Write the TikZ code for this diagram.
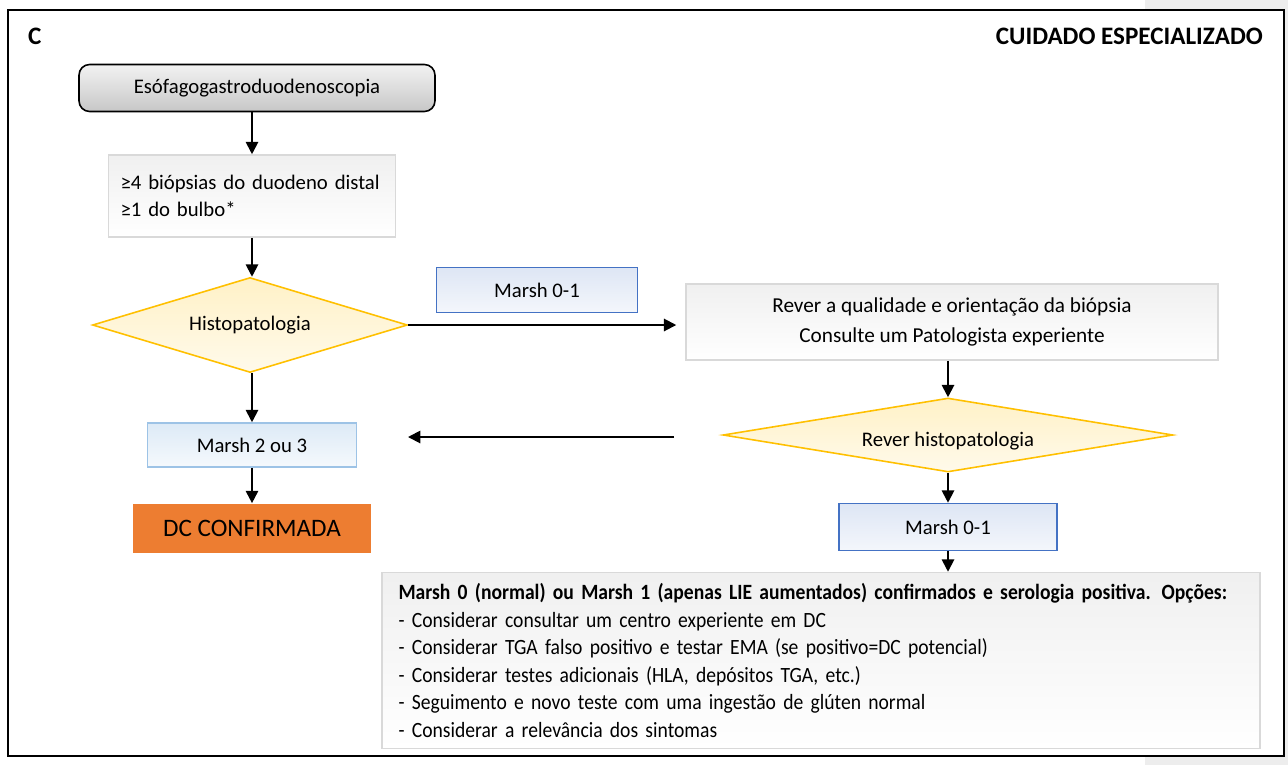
\documentclass[tikz,border=0pt]{standalone}
\usepackage{fontspec}
\setmainfont{Carlito}
\newfontfamily\narrowfont{Carlito}[FakeStretch=0.9,WordSpace=0.8]
\usepackage{tikz}
\usetikzlibrary{shapes.geometric,arrows.meta,positioning}

\definecolor{frameblue}{HTML}{4472C4}
\definecolor{paleblue}{HTML}{9DC3E6}
\definecolor{gold}{HTML}{FFC000}
\definecolor{dcorange}{HTML}{ED7D31}

\begin{document}
\begin{tikzpicture}[x=0.02cm,y=-0.02cm,
  font=\fontsize{11.8}{14}\selectfont,
  >={Triangle[length=7pt,width=7pt]},
  every edge/.style={draw,line width=1.1pt},
  greybox/.style={draw=black!15,line width=0.9pt,top color=black!6,bottom color=white},
  marshbox/.style={draw=frameblue,line width=0.9pt,top color=frameblue!18,bottom color=frameblue!6},
  decision/.style={diamond,draw=gold,line width=0.9pt,top color=gold!22,bottom color=gold!8,aspect=4,inner sep=0pt}]

  % page and frame
  \useasboundingbox (0,0) rectangle (1288,765);
  \fill[black!7] (1145,0) rectangle (1288,765);
  \draw[fill=white,line width=1.3pt] (8,10) rectangle (1284,756);
  \node[anchor=west,font=\fontsize{14.3}{17}\selectfont\bfseries] (lbl) at (22,36) {C};
  \node[anchor=east,font=\fontsize{14.3}{17}\selectfont\bfseries] (ttl) at (1269,36) {CUIDADO ESPECIALIZADO};

  % left column
  \node[draw,line width=0.9pt,rounded corners=6pt,top color=black!5,bottom color=black!22,
        minimum width=7.12cm,minimum height=0.94cm] (eso) at (257,88) {Esófagogastroduodenoscopia};
  \node[greybox,minimum width=5.74cm,minimum height=1.64cm,text width=5.26cm,align=left,
        inner xsep=0.24cm] (biop) at (252,196) {≥4 biópsias do duodeno distal\\[1pt]≥1 do bulbo*\\[10pt]};
  \node[decision,minimum width=6.3cm,minimum height=1.9cm] (hist) at (250,325) {Histopatologia\\[4pt]};
  \node[draw=paleblue,line width=0.9pt,top color=paleblue!35,bottom color=paleblue!10,
        minimum width=4.18cm,minimum height=0.88cm] (m23) at (252,445) {Marsh 2 ou 3};
  \node[fill=dcorange,minimum width=4.76cm,minimum height=0.98cm,
        font=\fontsize{14.3}{17}\selectfont] (dc) at (252,528) {DC CONFIRMADA};

  % right column
  \node[marshbox,minimum width=4.02cm,minimum height=0.9cm] (m01a) at (537,290) {Marsh 0-1};
  \node[greybox,minimum width=10.64cm,minimum height=1.52cm,align=center,
        font=\fontsize{12.1}{14}\selectfont] (rever) at (952,322)
        {Rever a qualidade e orientação da biópsia\\[3pt]Consulte um Patologista experiente};
  \node[decision,minimum width=9cm,minimum height=1.48cm] (rhist) at (948,435)
        {\raisebox{-6.5pt}[0pt][0pt]{Rever histopatologia}};
  \node[marshbox,minimum width=4.36cm,minimum height=0.94cm] (m01b) at (948,527) {Marsh 0-1};
  \node[greybox,minimum width=17.56cm,minimum height=3.52cm,text width=16.9cm,align=left,
        inner xsep=0.33cm,font=\narrowfont\fontsize{12.4}{15.6}\selectfont] (opts) at (821,660.5)
        {\textbf{Marsh 0 (normal) ou Marsh 1 (apenas LIE aumentados) confirmados e serologia positiva. Opções:}\\
         - Considerar consultar um centro experiente em DC\\
         - Considerar TGA falso positivo e testar EMA (se positivo=DC potencial)\\
         - Considerar testes adicionais (HLA, depósitos TGA, etc.)\\
         - Seguimento e novo teste com uma ingestão de glúten normal\\
         - Considerar a relevância dos sintomas};

  \coordinate (back1) at (674,437);
  \coordinate (back2) at (408,437);

\path[->]
(biop.north |- eso.south) edge (biop)
(biop.south) edge (biop.south |- hist.north)
(hist.south -| m23) edge (m23)
(m23)     edge (dc)
(hist.east) edge [shorten >=0.18cm] (rever.west |- hist.east)
(rever.south -| rhist) edge (rhist)
(rhist)   edge (m01b)
(m01b)    edge (opts.north -| m01b)
(back1)   edge (back2)
;
\end{tikzpicture}
\end{document}
